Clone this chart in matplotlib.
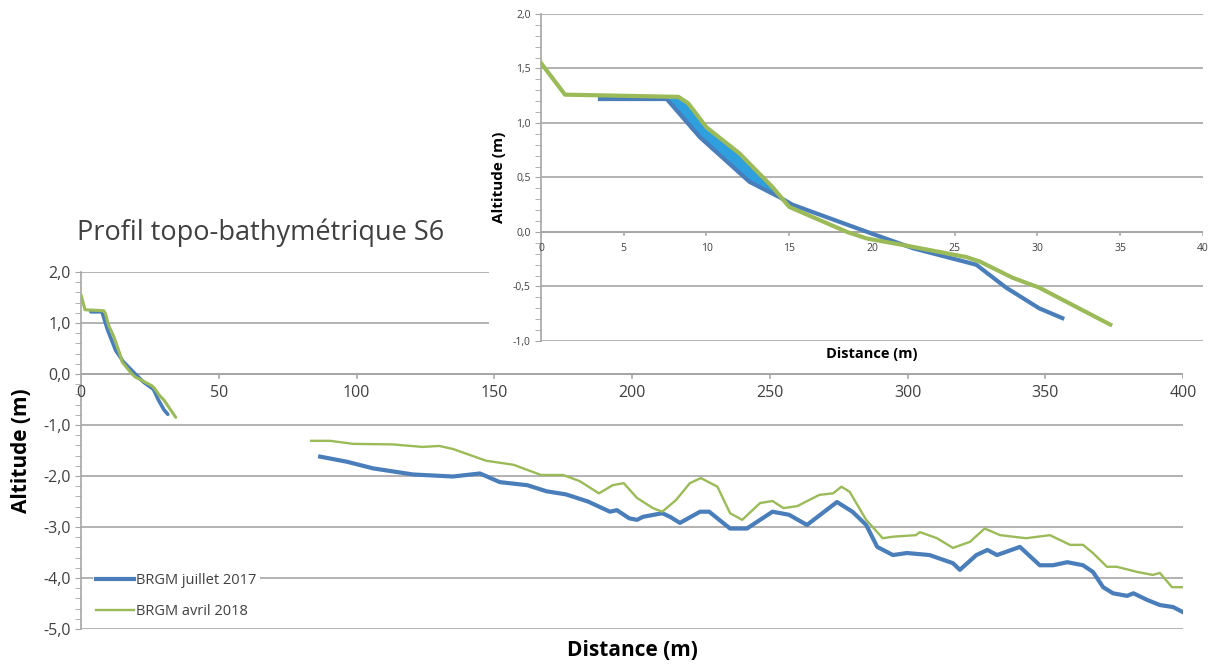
import numpy as np
from matplotlib import pyplot as plt
from matplotlib.patches import Rectangle
from matplotlib.ticker import FuncFormatter, MultipleLocator

# near-shore part of the profile (distance m, altitude m)
x_near_2017 = [3.56, 7.6, 9.6, 12.6, 14.4, 15.2, 19.9, 22.5, 26.3, 28.1, 30.1, 31.5]
z_near_2017 = [1.22, 1.22, 0.87, 0.46, 0.32, 0.25, -0.01, -0.15, -0.30, -0.51, -0.70, -0.79]
x_near_2018 = [0.0, 1.45, 8.3, 8.9, 10.0, 12.0, 14.0, 15.0, 18.5, 19.7, 21.9, 25.7, 26.5, 28.5, 30.1, 34.4]
z_near_2018 = [1.55, 1.26, 1.24, 1.18, 0.96, 0.72, 0.41, 0.23, 0.0, -0.06, -0.12, -0.23, -0.27, -0.42, -0.51, -0.85]

# offshore part of the profile
x_off_2017 = [86.8, 96.5, 106, 120.5, 135, 144.8, 152, 162, 169, 176, 184, 192, 194.5, 199,
              201.8, 204, 211, 213.8, 217.4, 224.7, 228, 235.6, 241.7, 251, 257, 263.5, 274.4,
              280, 285, 289, 294.7, 299.8, 308, 316.5, 319, 325, 329, 332.5, 340.8, 348, 352.8,
              358, 363.7, 367.3, 371, 374.6, 379.7, 382, 387, 391.6, 396.4, 400]
z_off_2017 = [-1.62, -1.72, -1.85, -1.97, -2.01, -1.95, -2.12, -2.18, -2.30, -2.36, -2.50, -2.70,
              -2.67, -2.83, -2.86, -2.80, -2.73, -2.80, -2.92, -2.70, -2.70, -3.03, -3.03, -2.70,
              -2.76, -2.96, -2.51, -2.70, -2.96, -3.39, -3.55, -3.51, -3.55, -3.71, -3.84, -3.55,
              -3.45, -3.55, -3.39, -3.75, -3.75, -3.69, -3.75, -3.88, -4.18, -4.30, -4.35, -4.30,
              -4.43, -4.53, -4.57, -4.67]
x_off_2018 = [83.5, 90.4, 98.8, 113, 124, 130, 135, 147, 157, 167, 175, 181, 188, 193, 197,
              201.8, 207.6, 211, 216, 221, 225, 231, 235.6, 240, 246.5, 251, 255, 260, 268, 273,
              276, 279, 285, 291, 294.7, 303, 304.5, 310.7, 316.5, 322.7, 328, 333.6, 343, 351.7,
              359, 363.7, 367.3, 372.4, 376, 383.3, 389, 391.6, 396, 400]
z_off_2018 = [-1.31, -1.31, -1.37, -1.38, -1.43, -1.41, -1.47, -1.70, -1.78, -1.98, -1.98, -2.10,
              -2.34, -2.18, -2.14, -2.43, -2.63, -2.70, -2.47, -2.14, -2.04, -2.21, -2.73, -2.86,
              -2.53, -2.49, -2.63, -2.59, -2.37, -2.34, -2.21, -2.31, -2.86, -3.22, -3.19, -3.16,
              -3.10, -3.22, -3.41, -3.29, -3.03, -3.16, -3.22, -3.16, -3.35, -3.35, -3.51, -3.78,
              -3.78, -3.88, -3.94, -3.90, -4.18, -4.18]

labels = ["BRGM juillet 2017", "BRGM avril 2018"]
BLUE = "#4a7ebb"
GREEN = "#9bbb59"
FILL = "#2f9fde"
GRID = "#a6a6a6"
TXT = "#404040"

plt.rcParams['font.family'] = ['Open Sans', 'DejaVu Sans']

comma = FuncFormatter(lambda v, p: f"{v:.1f}".replace('.', ','))


def excel_style(ax, xmaj, ymaj, ymin, labsize):
    for s in ("top", "right", "bottom"):
        ax.spines[s].set_visible(False)
    ax.spines["left"].set_color(GRID)
    ax.spines["left"].set_linewidth(1.2)
    # horizontal axis crossing at 0
    ax.axhline(0, color=GRID, lw=1.4, zorder=1)
    ax.xaxis.set_major_locator(MultipleLocator(xmaj))
    ax.yaxis.set_major_locator(MultipleLocator(ymaj))
    ax.yaxis.set_minor_locator(MultipleLocator(ymin))
    ax.yaxis.set_major_formatter(comma)
    ax.grid(axis="y", color=GRID, lw=1.2, zorder=0)
    ax.tick_params(axis="y", which="both", color=GRID, length=4, labelsize=labsize,
                   labelcolor=TXT)
    ax.tick_params(axis="x", length=0, labelsize=labsize, labelcolor=TXT)
    ax.set_axisbelow(True)


fig = plt.figure(figsize=(12.13, 6.66), dpi=100)

# main profile
ax = fig.add_axes([0.06678, 0.05556, 0.9085, 0.5360])
ax.set_xlim(0, 400)
ax.set_ylim(-5, 2)
excel_style(ax, 50, 1, 0.2, 11.5)
ax.set_xticks([])
for xv in range(0, 401, 50):
    ax.text(xv, -0.22, str(xv), ha="center", va="top", fontsize=11.5, color=TXT)
    ax.plot([xv, xv], [0, -0.08], color=GRID, lw=1.2, zorder=1)

ax.plot(x_near_2017, z_near_2017, color=BLUE, lw=2.6, solid_capstyle="round", zorder=3)
ax.plot(x_near_2018, z_near_2018, color=GREEN, lw=2.2, solid_capstyle="round", zorder=3)
l17, = ax.plot(x_off_2017, z_off_2017, color=BLUE, lw=3.0, label=labels[0], zorder=3)
l18, = ax.plot(x_off_2018, z_off_2018, color=GREEN, lw=1.7, label=labels[1], zorder=3)

leg = ax.legend(handles=[l17, l18], loc="lower left", bbox_to_anchor=(0.004, 0.0),
                frameon=True, facecolor="white", edgecolor="none", framealpha=1,
                fontsize=10.5, handlelength=2.6, handletextpad=0.2, labelspacing=1.05,
                borderpad=0.2)
for t in leg.get_texts():
    t.set_color(TXT)

ax.set_ylabel("Altitude (m)", fontsize=15, fontweight="bold", color="black", labelpad=8)
fig.text(0.521, 0.024, "Distance (m)", ha="center", va="center", fontsize=15,
         fontweight="bold")
fig.text(0.0635, 0.651, "Profil topo-bathymétrique S6", ha="left", va="center",
         fontsize=19.5, color=TXT)

# white backdrop behind the zoomed profile
fig.patches.append(Rectangle((0.403, 0.452), 0.6, 0.55, transform=fig.transFigure,
                             facecolor="white", edgecolor="none", zorder=0.5))

# zoom on the beach part
axi = fig.add_axes([0.44600, 0.48799, 0.54575, 0.49099], zorder=1)
axi.patch.set_alpha(0)
axi.set_xlim(0, 40)
axi.set_ylim(-1, 2)
excel_style(axi, 5, 0.5, 0.1, 7.5)
axi.set_xticks([])
for xv in range(0, 41, 5):
    axi.text(xv, -0.1, str(xv), ha="center", va="top", fontsize=7.5, color=TXT)
    axi.plot([xv, xv], [0, -0.025], color=GRID, lw=1.2, zorder=1)

# erosion between the two surveys
xb = np.array(x_near_2017)
zb = np.array(z_near_2017)
xg = np.array(x_near_2018)
zg = np.array(z_near_2018)
mb = (xb >= 7.6) & (xb <= 15.2)
mg = (xg >= 7.6) & (xg <= 15.2)
axi.fill(np.concatenate([xg[mg], xb[mb][::-1]]), np.concatenate([zg[mg], zb[mb][::-1]]),
         color=FILL, lw=0, zorder=2)
axi.plot(x_near_2017, z_near_2017, color=BLUE, lw=3.0, zorder=3)
axi.plot(x_near_2018, z_near_2018, color=GREEN, lw=3.0, zorder=4)

axi.set_ylabel("Altitude (m)", fontsize=11, fontweight="bold", labelpad=5)
fig.text(0.719, 0.468, "Distance (m)", ha="center", va="center", fontsize=10.5,
         fontweight="bold")

fig.savefig("out.png", dpi=100)
